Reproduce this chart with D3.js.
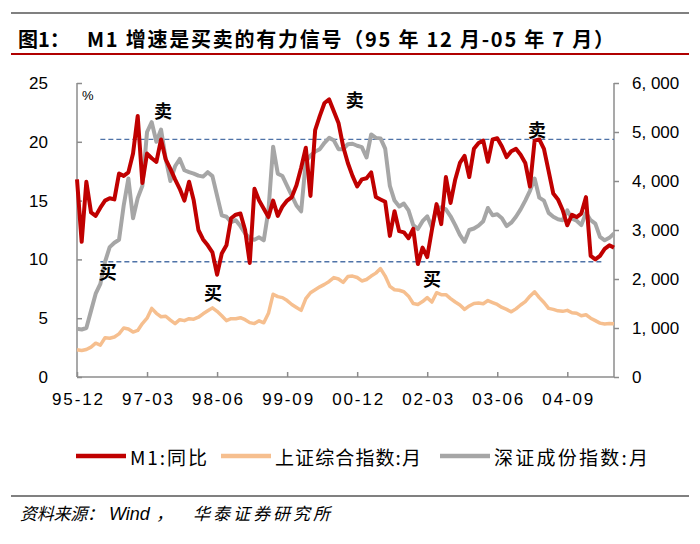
<!DOCTYPE html>
<html>
<head>
<meta charset="utf-8">
<script src="https://cdn.jsdelivr.net/npm/d3@7"></script>
<style>
  html, body { margin: 0; padding: 0; background: #fff; }
  svg { display: block; }
</style>
</head>
<body>
<svg id="chart" width="700" height="544"></svg>
<script>
// ---------------- DATA ----------------
const startYear = 1995, startMonth = 12, monthCount = 116;
const categories = [];
for (let k = 0; k < monthCount; k++) {
  const m0 = startMonth - 1 + k;
  const yy = (startYear + Math.floor(m0 / 12)) % 100;
  const mm = (m0 % 12) + 1;
  categories.push(String(yy).padStart(2, "0") + "-" + String(mm).padStart(2, "0"));
}
const tickLabels = ["95-12", "97-03", "98-06", "99-09", "00-12", "02-03", "03-06", "04-09"];
const leftTicks = [0, 5, 10, 15, 20, 25];
const rightTicks = [0, 1000, 2000, 3000, 4000, 5000, 6000];

// M1 同比 (%)
const m1Yoy = [
  16.8, 11.5, 16.6, 14.0, 13.7, 14.4, 15.0, 15.2, 15.1, 17.3,
  17.1, 17.4, 19.0, 22.2, 16.5, 19.0, 18.6, 18.3, 20.2, 18.5,
  17.7, 16.8, 16.0, 15.0, 16.6, 15.0, 12.5, 11.7, 11.2, 10.6,
  8.7, 10.5, 11.2, 13.5, 13.8, 13.9, 12.5, 9.7, 16.0, 15.0,
  14.3, 13.6, 15.0, 13.7, 14.5, 15.0, 15.3, 16.3, 17.8, 19.5,
  15.4, 21.0, 22.2, 23.3, 23.6, 22.6, 21.6, 19.6, 18.2, 17.1,
  16.2, 16.8, 16.9, 17.4, 15.3, 15.1, 14.9, 12.0, 14.1, 12.4,
  12.3, 11.8, 12.6, 9.6, 11.0, 10.2, 12.5, 14.7, 13.0, 17.0,
  14.8, 16.8, 18.2, 18.8, 17.0, 19.4, 19.9, 20.1, 18.3, 20.2,
  20.3, 19.6, 18.7, 19.2, 19.4, 18.9, 18.2, 16.2, 20.1, 20.2,
  19.4, 17.5, 15.6, 15.1, 14.2, 12.9, 13.8, 13.6, 13.9, 15.3,
  10.3, 10.0, 10.3, 10.9, 11.2, 11.0
];
// 上证综合指数:月
const shIndex = [
  555, 540, 560, 610, 690, 650, 800, 790, 815, 880,
  1000, 980, 917, 950, 1090, 1200, 1400, 1300, 1230, 1240,
  1160, 1090, 1170, 1150, 1190, 1180, 1220, 1290, 1350, 1411,
  1340, 1250, 1150, 1190, 1190, 1210, 1170, 1110, 1090, 1147,
  1106, 1300, 1690, 1640, 1620, 1560, 1480, 1420, 1360, 1600,
  1720, 1780, 1840, 1890, 1950, 2028, 2000, 1930, 2050, 2060,
  2030, 1960, 1990, 2060, 2120, 2212, 2060, 1850, 1780, 1770,
  1740, 1650, 1500, 1480, 1540, 1620, 1530, 1720, 1680, 1680,
  1600, 1530, 1470, 1380, 1450, 1500, 1510, 1495, 1560, 1520,
  1480, 1420, 1380, 1330, 1390, 1470, 1540, 1650, 1740, 1620,
  1520, 1400, 1380, 1350, 1340, 1360, 1310, 1300, 1250, 1270,
  1200, 1150, 1100, 1080, 1090, 1085
];
// 深证成份指数:月
const szIndex = [
  983, 970, 1000, 1350, 1700, 1900, 2350, 2650, 2740, 2800,
  3500, 4050, 3240, 3650, 3900, 5000, 5200, 4800, 5050, 4450,
  4000, 4300, 4450, 4220, 4180, 4150, 4110, 4090, 4180, 4100,
  3700, 3300, 3270, 3160, 3200, 3080, 2930, 2830, 2800, 2850,
  2790, 3400, 4700, 4150, 4100, 3900, 3700, 3500, 3380, 4400,
  4520, 4600, 4650, 4780, 4880, 4830, 4650, 4650, 4750, 4760,
  4720, 4690, 4480, 4950, 4880, 4870, 4660, 3900, 3600, 3480,
  3540, 3400, 3100, 3020, 3180, 3280, 3050, 3460, 3460, 3420,
  3280, 3100, 2900, 2760, 3000, 3030, 3090, 3180, 3450, 3300,
  3320, 3240, 3080, 3150, 3270, 3420, 3600, 3800, 4050, 3660,
  3600, 3350, 3270, 3220, 3200, 3400, 3230, 3190, 3100, 3350,
  3200, 3130, 2860, 2790, 2840, 2930
];
// signal reference lines (left-axis %, month-index span)
const signalLevels = [20.2, 9.8];
const signalStart = [5, 5];
const signalEnd = [115, 112.6];
// buy / sell annotations
const noteText = ["卖", "卖", "卖", "买", "买", "买"];
const noteMonth = [18.4, 59.5, 98.5, 6.6, 29.1, 76.0];
const noteValue = [22.7, 23.6, 21.1, 9.0, 7.25, 8.4];

const seriesNames = ["M1:同比", "上证综合指数:月", "深证成份指数:月"];
const seriesColors = ["#c00000", "#f6bf8f", "#a6a6a6"];

// ---------------- DRAW ----------------
(function draw() {
const svg = d3.select("#chart");
const pL = 77, pR = 614, pT = 83, pB = 377;
const cjk = "'Noto Sans CJK SC', 'Noto Sans', sans-serif";
const latin = "'Liberation Sans', Arial, sans-serif";

const x = d3.scalePoint().domain(categories).range([pL, pR]).padding(0);
const xi = d3.scaleLinear().domain([0, monthCount - 1]).range([pL, pR]);
const yL = d3.scaleLinear().domain([0, 25]).range([pB, pT]);
const yR = d3.scaleLinear().domain([0, 6000]).range([pB, pT]);

// frame lines
svg.append("line").attr("x1", 11).attr("x2", 689).attr("y1", 13).attr("y2", 13)
  .attr("stroke", "#808080").attr("stroke-width", 2);
svg.append("line").attr("x1", 11).attr("x2", 689).attr("y1", 54).attr("y2", 54)
  .attr("stroke", "#b00000").attr("stroke-width", 2);
svg.append("line").attr("x1", 11).attr("x2", 689).attr("y1", 496).attr("y2", 496)
  .attr("stroke", "#808080").attr("stroke-width", 2);

// title
svg.append("text").attr("x", 18).attr("y", 47)
  .style("font-family", cjk).style("font-weight", 700).style("font-size", "20px")
  .text("图1：");
svg.append("text").attr("x", 87).attr("y", 47)
  .attr("textLength", 527).attr("lengthAdjust", "spacing")
  .style("font-family", cjk).style("font-weight", 700).style("font-size", "20px")
  .text("M1 增速是买卖的有力信号（95 年 12 月-05 年 7 月）");

// axes
const axisColor = "#8c8c8c";
const gL = svg.append("g").attr("transform", `translate(${pL},0)`)
  .call(d3.axisLeft(yL).tickValues(leftTicks).tickSize(-5).tickPadding(29).tickFormat(d3.format("d")));
const gR = svg.append("g").attr("transform", `translate(${pR},0)`)
  .call(d3.axisRight(yR).tickValues(rightTicks).tickSize(5).tickPadding(13)
    .tickFormat(d => d3.format(",")(d).replace(",", ", ")));
const gB = svg.append("g").attr("transform", `translate(0,${pB})`)
  .call(d3.axisBottom(x).tickValues(tickLabels).tickSize(-5).tickPadding(16));
[gL, gR, gB].forEach(g => {
  g.select(".domain").attr("stroke", axisColor).attr("stroke-width", 1.5);
  g.selectAll(".tick line").attr("stroke", axisColor).attr("stroke-width", 1.5);
  g.selectAll(".tick text").attr("fill", "#000")
    .style("font-family", latin).style("font-size", "17px");
});
gL.select(".domain").attr("d", `M0,${pB}V${pT}`);
gR.select(".domain").attr("d", `M0,${pB}V${pT}`);
gB.select(".domain").attr("d", `M${pL},0H${pR}`);
gB.selectAll(".tick text").attr("textLength", 51).attr("lengthAdjust", "spacing");

svg.append("text").attr("x", 82).attr("y", 100)
  .style("font-family", latin).style("font-size", "13px").text("%");

// signal lines
svg.append("g").selectAll("line").data(signalLevels).join("line")
  .attr("x1", (d, i) => xi(signalStart[i])).attr("x2", (d, i) => xi(signalEnd[i]))
  .attr("y1", d => yL(d)).attr("y2", d => yL(d))
  .attr("stroke", "#4f73a8").attr("stroke-width", 1.3).attr("stroke-dasharray", "5,3");

// series lines
const lineL = d3.line().x((d, i) => x(categories[i])).y(d => yL(d));
const lineR = d3.line().x((d, i) => x(categories[i])).y(d => yR(d));
svg.append("path").datum(shIndex).attr("d", lineR).attr("fill", "none")
  .attr("stroke", seriesColors[1]).attr("stroke-width", 3.5).attr("stroke-linejoin", "round");
svg.append("path").datum(szIndex).attr("d", lineR).attr("fill", "none")
  .attr("stroke", seriesColors[2]).attr("stroke-width", 4).attr("stroke-linejoin", "round");
svg.append("path").datum(m1Yoy).attr("d", lineL).attr("fill", "none")
  .attr("stroke", seriesColors[0]).attr("stroke-width", 4).attr("stroke-linejoin", "round");

// annotations
svg.append("g").selectAll("text").data(noteText).join("text")
  .attr("x", (d, i) => xi(noteMonth[i])).attr("y", (d, i) => yL(noteValue[i]))
  .attr("text-anchor", "middle").attr("dominant-baseline", "central")
  .style("font-family", cjk).style("font-weight", 700).style("font-size", "18px")
  .text(d => d);

// legend
const legX = [76, 221, 440];
const legTextLen = [77, 146, 154];
const legend = svg.append("g");
seriesNames.forEach((name, i) => {
  legend.append("line").attr("x1", legX[i]).attr("x2", legX[i] + 50)
    .attr("y1", 456).attr("y2", 456)
    .attr("stroke", seriesColors[i]).attr("stroke-width", 4.5);
  legend.append("text").attr("x", legX[i] + 54).attr("y", 456)
    .attr("dominant-baseline", "central")
    .attr("textLength", legTextLen[i]).attr("lengthAdjust", "spacing")
    .style("font-family", cjk).style("font-size", "19px").text(name);
});

// source
const src = svg.append("g").style("font-family", cjk).style("font-style", "italic")
  .style("font-size", "17px");
src.append("text").attr("x", 20).attr("y", 520).attr("textLength", 84)
  .attr("lengthAdjust", "spacing").text("资料来源：");
src.append("text").attr("x", 109).attr("y", 520)
  .style("font-family", latin).style("font-size", "18px").text("Wind");
src.append("text").attr("x", 156).attr("y", 520).text("，");
src.append("text").attr("x", 193).attr("y", 520).attr("textLength", 137)
  .attr("lengthAdjust", "spacing").text("华泰证券研究所");
})();
</script>
</body>
</html>
